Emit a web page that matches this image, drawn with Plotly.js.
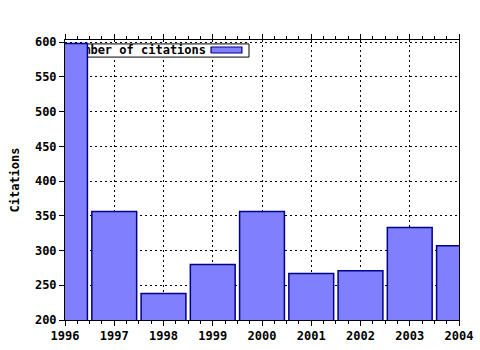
<!DOCTYPE html>
<html>
<head>
<meta charset="utf-8">
<script src="https://cdn.plot.ly/plotly-3.0.1.min.js"></script>
<style>html,body{margin:0;padding:0;background:#fff}#chart{width:480px;height:350px}</style>
</head>
<body>
<div id="chart"></div>
<script>
// ---- data ----
var years = [1996, 1997, 1998, 1999, 2000, 2001, 2002, 2003, 2004];
var citations = [598, 356, 238, 280, 356, 267, 271, 333, 307];
var seriesName = "Number of citations";
var yTitle = "Citations";

var FONT = "DejaVu Sans Mono";
var font = {family: FONT, size: 12, color: "#000", weight: "bold"};
var fillColor = "#8080ff";
var edgeColor = "#00008b";

// legend drawn behind bars (as in the reference), in a [0,1] frame on the base axes
var lgX0 = 0.0025, lgX1 = 0.467, lgY0 = 0.939, lgY1 = 0.986;
var swX0 = 0.3706, swX1 = 0.449, swY0 = 0.9536, swY1 = 0.975;

var traces = [
  {type: "scatter", mode: "lines", xaxis: "x", yaxis: "y",
   x: [lgX0, lgX1, lgX1, lgX0, lgX0], y: [lgY0, lgY0, lgY1, lgY1, lgY0],
   fill: "toself", fillcolor: "#fff", line: {color: "#000", width: 1},
   hoverinfo: "skip", showlegend: false},
  {type: "scatter", mode: "lines", xaxis: "x", yaxis: "y",
   x: [swX0, swX1, swX1, swX0, swX0], y: [swY0, swY0, swY1, swY1, swY0],
   fill: "toself", fillcolor: fillColor, line: {color: edgeColor, width: 1.2},
   hoverinfo: "skip", showlegend: false},
  {type: "scatter", mode: "text", xaxis: "x", yaxis: "y",
   x: [0.0095], y: [0.9625], text: [seriesName], textposition: "middle right",
   textfont: font, hoverinfo: "skip", showlegend: false},
  {type: "bar", xaxis: "x2", yaxis: "y2", x: years, y: citations, name: seriesName,
   width: 0.91, marker: {color: fillColor, line: {color: edgeColor, width: 1.5}},
   showlegend: false}
];

var layout = {
  width: 480, height: 350,
  margin: {l: 65, r: 21, t: 40, b: 30},
  paper_bgcolor: "#fff", plot_bgcolor: "#fff",
  font: font,
  showlegend: false,
  xaxis: {range: [0, 1], visible: false, fixedrange: true},
  yaxis: {range: [0, 1], visible: false, fixedrange: true},
  xaxis2: {
    overlaying: "x", anchor: "y2",
    range: [1996, 2004], tick0: 1996, dtick: 1,
    ticks: "outside", ticklen: 5, tickcolor: "#000",
    showline: true, linecolor: "#000", linewidth: 1, mirror: "ticks",
    showgrid: true, gridcolor: "#000", griddash: "2px,3px", gridwidth: 1,
    zeroline: false, tickfont: font,
    minor: {dtick: 0.25, ticks: "outside", ticklen: 3, tickcolor: "#000", showgrid: false}
  },
  yaxis2: {
    overlaying: "y", anchor: "x2",
    range: [200, 603], tick0: 200, dtick: 50,
    ticks: "outside", ticklen: 5, tickcolor: "#000",
    showline: true, linecolor: "#000", linewidth: 1, mirror: true,
    showgrid: true, gridcolor: "#000", griddash: "2px,3px", gridwidth: 1,
    zeroline: false, tickfont: font,
    title: {text: yTitle, font: font, standoff: 12}
  }
};

Plotly.newPlot("chart", traces, layout, {staticPlot: true, displayModeBar: false});
</script>
</body>
</html>
